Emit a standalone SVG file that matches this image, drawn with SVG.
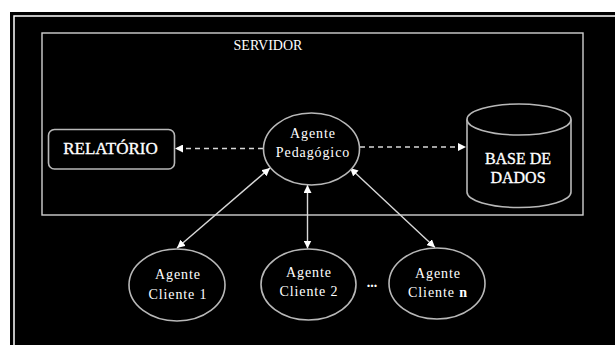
<svg xmlns="http://www.w3.org/2000/svg" width="615" height="345" viewBox="0 0 615 345">
<defs>
<style>
.t{font-family:'Liberation Serif','Times New Roman',serif;fill:#ffffff}
.lbl{font-size:14px;letter-spacing:0.9px;text-anchor:middle}
.big{font-size:17px;text-anchor:middle;stroke:#ffffff;stroke-width:0.35}
.node{fill:#000;stroke:#b8b8b8;stroke-width:1.6}
.conn{stroke:#d8d8d8;stroke-width:1.4;fill:none}
.dash{stroke-dasharray:5 4}
</style>
<marker id="ah" viewBox="0 0 10 10" refX="10" refY="5" markerWidth="8" markerHeight="8" markerUnits="userSpaceOnUse" orient="auto-start-reverse">
<path d="M0,0 L10,5 L0,10 Z" fill="#ffffff"/>
</marker>
</defs>
<rect x="0" y="0" width="615" height="345" fill="#ffffff"/>
<rect x="10" y="12" width="610" height="340" fill="#000000"/>
<path d="M14,350 V16 H620" fill="none" stroke="#ffffff" stroke-width="1.5"/>
<g id="servidor">
<rect x="42" y="33" width="541" height="182" fill="none" stroke="#d0d0d0" stroke-width="1.4"/>
<text class="t" x="268" y="50" font-size="14" text-anchor="middle">SERVIDOR</text>
</g>
<g id="connectors">
<line class="conn dash" x1="263" y1="148.5" x2="175" y2="148.5" marker-end="url(#ah)"/>
<line class="conn dash" x1="360" y1="147" x2="466" y2="147" marker-end="url(#ah)"/>
<line class="conn" x1="270" y1="168" x2="177" y2="248" marker-start="url(#ah)" marker-end="url(#ah)"/>
<line class="conn" x1="307.5" y1="185" x2="307.5" y2="248.5" marker-start="url(#ah)" marker-end="url(#ah)"/>
<line class="conn" x1="350" y1="168" x2="435" y2="247.5" marker-start="url(#ah)" marker-end="url(#ah)"/>
</g>
<g id="relatorio">
<rect class="node" x="48.5" y="129.5" width="126" height="39.5" rx="6"/>
<text class="t big" x="110.5" y="154">RELATÓRIO</text>
</g>
<g id="pedagogico">
<ellipse class="node" cx="311.5" cy="149" rx="48" ry="36"/>
<text class="t lbl" x="313" y="137.5">Agente</text>
<text class="t lbl" x="313" y="157">Pedagógico</text>
</g>
<g id="basedados">
<path class="node" d="M467,119.5 V192 A52,15.5 0 0 0 571,192 V119.5 A52,15.5 0 0 0 467,119.5 Z"/>
<path d="M467,119.5 A52,15.5 0 0 0 571,119.5" fill="none" stroke="#b8b8b8" stroke-width="1.6"/>
<text class="t big" x="518" y="163.5" style="font-size:16px">BASE DE</text>
<text class="t big" x="518" y="182.5" style="font-size:16px">DADOS</text>
</g>
<g id="cliente1">
<ellipse class="node" cx="177" cy="285" rx="48" ry="36"/>
<text class="t lbl" x="178" y="279">Agente</text>
<text class="t lbl" x="178" y="298.5">Cliente 1</text>
</g>
<g id="cliente2">
<ellipse class="node" cx="308.5" cy="284.5" rx="47.5" ry="35.5"/>
<text class="t lbl" x="309" y="277">Agente</text>
<text class="t lbl" x="309" y="296">Cliente 2</text>
</g>
<text class="t" x="372" y="287" font-size="14" font-weight="bold" text-anchor="middle">...</text>
<g id="clienten">
<ellipse class="node" cx="437" cy="283.5" rx="48" ry="35.5"/>
<text class="t lbl" x="438" y="277.5">Agente</text>
<text class="t lbl" x="438" y="296.5">Cliente <tspan font-weight="bold">n</tspan></text>
</g>
</svg>
